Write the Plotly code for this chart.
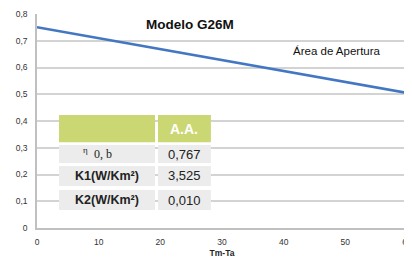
import plotly.graph_objects as go

x_vals = [0, 10, 20, 30, 40, 50, 60]
eff = [0.751, 0.710, 0.669, 0.628, 0.587, 0.546, 0.505]
row_labels = ["η 0, b", "K1(W/Km²)", "K2(W/Km²)"]
row_values = ["0,767", "3,525", "0,010"]
header = "A.A."

fig = go.Figure()
fig.add_trace(go.Scatter(x=x_vals, y=eff, mode="lines",
                         line=dict(color="#4477c2", width=2.5), showlegend=False))

green = "#cbd773"
gray = "#ececec"
c1 = (3.57, 19.14)
c2 = (19.62, 28.2)
rows_y = [(0.321, 0.422), (0.243, 0.310), (0.157, 0.232), (0.067, 0.142)]
shapes = []
for i, (y0, y1) in enumerate(rows_y):
    col = green if i == 0 else gray
    for (x0, x1) in (c1, c2):
        shapes.append(dict(type="rect", xref="x", yref="y", x0=x0, x1=x1, y0=y0, y1=y1,
                           fillcolor=col, line=dict(width=0), layer="above"))

ann = []
ann.append(dict(x=(c2[0] + c2[1]) / 2, y=sum(rows_y[0]) / 2, text="<b>" + header + "</b>",
                showarrow=False, font=dict(color="white", size=14, family="Liberation Sans")))
for i, (lab, val) in enumerate(zip(row_labels, row_values)):
    yc = sum(rows_y[i + 1]) / 2
    if i == 0:
        sym, rest = lab.split(" ", 1)
        ann.append(dict(x=(c1[0] + c1[1]) / 2, y=yc, text=sym, showarrow=False,
                        xshift=-22, yshift=4,
                        font=dict(size=9, family="Liberation Serif", color="#222")))
        ann.append(dict(x=(c1[0] + c1[1]) / 2, y=yc, text=rest, showarrow=False, xshift=-4,
                        font=dict(size=12, family="Liberation Serif", color="#222")))
    else:
        ann.append(dict(x=(c1[0] + c1[1]) / 2, y=yc, text="<b>" + lab + "</b>", showarrow=False,
                        font=dict(size=12.5, family="Liberation Sans", color="#222")))
    ann.append(dict(x=(c2[0] + c2[1]) / 2, y=yc, text=val, showarrow=False,
                    font=dict(size=13, family="Liberation Sans", color="#222")))

ann.append(dict(x=24.8, y=0.759, xref="x", yref="y", text="<b>Modelo G26M</b>", showarrow=False,
                xanchor="center", font=dict(size=13.5, family="Liberation Sans", color="#111")))
ann.append(dict(x=48.7, y=0.662, xref="x", yref="y", text="Área de Apertura", showarrow=False,
                font=dict(size=11.5, family="Liberation Sans", color="#111")))

fig.update_layout(
    width=404, height=251,
    margin=dict(l=29, r=5, t=6, b=31),
    paper_bgcolor="white", plot_bgcolor="white",
    separators=",.",
    shapes=shapes, annotations=ann,
    font=dict(family="Liberation Sans", size=8.5, color="#333"),
    xaxis=dict(range=[0, 60], dtick=10, showgrid=False, showline=True, linecolor="#c0c0c0",
               linewidth=1.5, zeroline=False, ticks="", automargin=False, ticklabelstandoff=5,
               title=dict(text="<b>Tm-Ta</b>", font=dict(size=8.5, color="#222"), standoff=4)),
    yaxis=dict(range=[0, 0.8], dtick=0.1, showgrid=True, gridcolor="#d3d3d3", gridwidth=1.5,
               showline=True, linecolor="#c0c0c0", linewidth=1.5, zeroline=False, ticks="",
               automargin=False, ticklabelstandoff=6),
)
fig.write_html("out.html")
